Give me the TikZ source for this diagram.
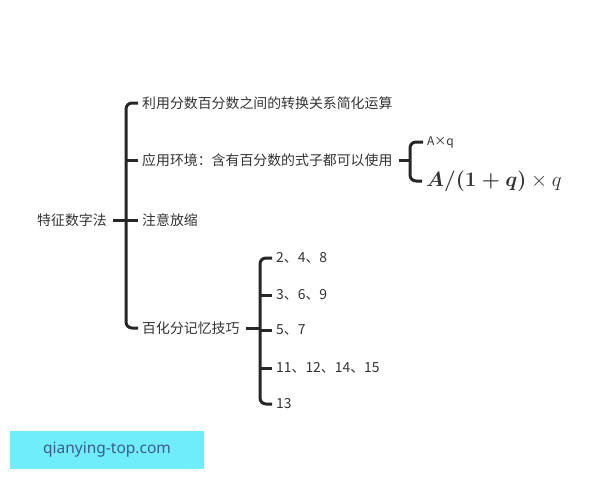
\documentclass[tikz,border=0pt]{standalone}
\usepackage{amsmath,amsbsy}
\usepackage{fontspec}
\newfontfamily\cjk{Noto Sans CJK SC}
\newfontfamily\wm{Noto Sans}
\definecolor{txt}{HTML}{333333}
\definecolor{ln}{HTML}{262626}
\definecolor{wmbg}{HTML}{6FEEFA}
\definecolor{wmtx}{HTML}{3C5A8C}
\begin{document}
\begin{tikzpicture}[x=1pt,y=-1pt,
  lbl/.style={anchor=west,inner sep=1pt,text=txt,font=\cjk\fontsize{13.9}{15}\selectfont},
  sml/.style={anchor=west,inner sep=1pt,text=txt,font=\cjk\fontsize{12}{13}\selectfont},
  br/.style={draw=ln,line width=3pt,rounded corners=6pt}]
\useasboundingbox (0,0) rectangle (600,480);
% root
\node[lbl] (root) at (36,220) {特征数字法};
\coordinate (m) at (126,220);
\node[lbl] (a) at (141,103) {利用分数百分数之间的转换关系简化运算};
\node[lbl] (b) at (141,160) {应用环境：含有百分数的式子都可以使用};
\node[lbl] (c) at (141,220) {注意放缩};
\node[lbl] (d) at (141,328) {百化分记忆技巧};
\draw[br] ([xshift=5pt]root.east) -- (m);
\draw[br] ([xshift=-3pt]a.west) -| (m) |- ([xshift=-3pt]d.west);
\draw[br] (m |- b.west) -- ([xshift=-3pt]b.west);
\draw[br] (m) -- ([xshift=-3pt]c.west);
% formula branch
\coordinate (m2) at (410,160);
\node[sml] (b1) at (426,142) {A×q};
\node[anchor=west,inner sep=1pt,text=txt] (b2) at (425,181) {\fontsize{21}{24}\selectfont$\boldsymbol{A/(1+q)}\times q$};
\draw[br] ([xshift=5pt]b.east) -- (m2);
\draw[br] ([xshift=-3pt]b1.west) -| (m2) |- ([xshift=-3pt]b2.west);
% memory branch
\coordinate (m3) at (260,328);
\node[lbl] (e1) at (275,258) {2、4、8};
\node[lbl] (e2) at (275,295) {3、6、9};
\node[lbl] (e3) at (275,330) {5、7};
\node[lbl] (e4) at (275,368) {11、12、14、15};
\node[lbl] (e5) at (275,404) {13};
\draw[br] ([xshift=5pt]d.east) -- (m3);
\draw[br] ([xshift=-3pt]e1.west) -| (m3) |- ([xshift=-3pt]e5.west);
\draw[br] (m3 |- e2.west) -- ([xshift=-3pt]e2.west);
\draw[br] (m3 |- e3.west) -- ([xshift=-3pt]e3.west);
\draw[br] (m3 |- e4.west) -- ([xshift=-3pt]e4.west);
% watermark
\node[fill=wmbg,minimum width=194pt,minimum height=38pt,inner sep=0pt,text=wmtx,font=\wm\fontsize{15.5}{18}\selectfont] (w) at (107,450) {qianying-top.com};
\end{tikzpicture}
\end{document}
